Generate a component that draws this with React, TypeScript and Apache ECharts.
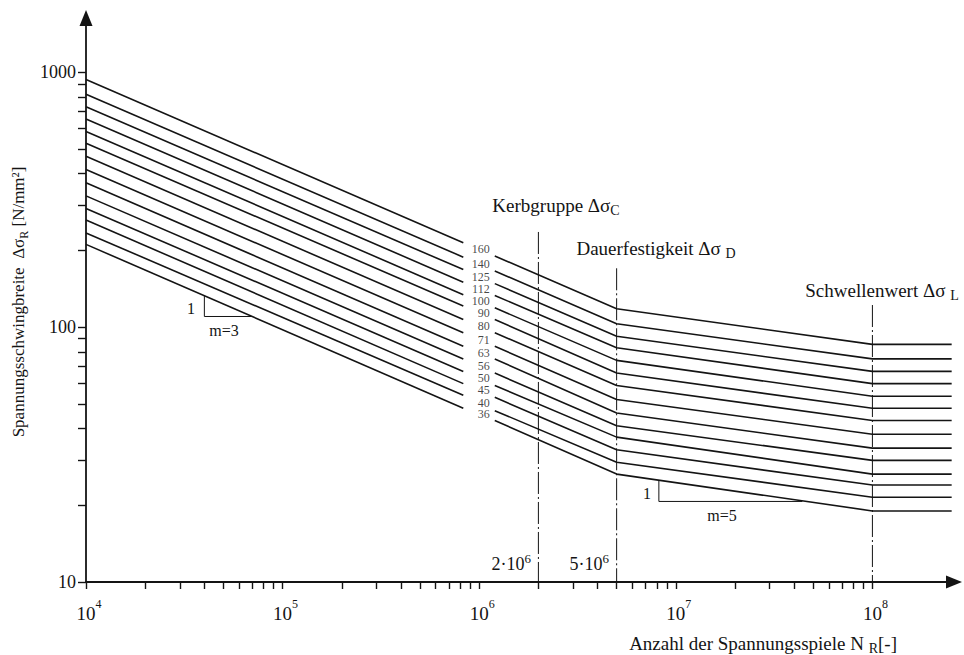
import React, { useEffect, useRef } from 'react';
import * as echarts from 'echarts';

// Detail categories (Kerbgruppen) in N/mm²
const categories = [160, 140, 125, 112, 100, 90, 80, 71, 63, 56, 50, 45, 40, 36];

// Cycle numbers of the characteristic points
const N_START = 1e4;
const N_LEFT_END = 8.3e5;
const N_RIGHT_START = 1.2e6;
const N_LABEL = 1.13e6;
const N_C = 2e6;
const N_D = 5e6;
const N_L = 1e8;
const N_END = 2.53e8;

// Stress ranges at those points
const startValues = [936, 819, 731, 655, 585, 526, 468, 415, 368, 327, 292, 263, 234, 211];
const leftEndValues = [214, 188, 168, 150, 134, 121, 107, 95, 84, 75, 67, 60, 54, 48];
const rightStartValues = [190, 166, 148, 133, 119, 107, 95, 84, 75, 66, 59, 53, 47, 43];
const dValues = [118, 103, 92, 83, 74, 66, 59, 52, 46, 41, 37, 33, 29.5, 26.5];
const lValues = [85.5, 75, 67, 60, 53.5, 48, 43, 38, 33.5, 30, 26.5, 24, 21.5, 19];

// Vertical reference lines: cycle number and top stress value
const refLineN = [N_C, N_D, N_L];
const refLineTop = [236, 170, 122];

// Slope triangles
const slope3 = [[4e4, 133], [4e4, 110], [7e4, 110]];
const slope5 = [[8.2e6, 25.1], [8.2e6, 20.7], [4.4e7, 20.7]];

// Axis ticks
const decadesX = [1e4, 1e5, 1e6, 1e7];
const decadesY = [10, 100];
const multipliers = [1, 2, 3, 4, 5, 6, 7, 8, 9];
const xLabelValues = [1e4, 1e5, 1e6, 1e7, 1e8];
const yLabelValues = [10, 100, 1000];

export default function App() {
  const ref = useRef<HTMLDivElement>(null);

  useEffect(() => {
    const chart = echarts.init(ref.current!, null, { renderer: 'svg' });
    const serif = '"Liberation Serif", "Times New Roman", serif';
    const ink = '#141414';

    const xTicks: number[] = [];
    decadesX.forEach((d) => multipliers.forEach((m) => xTicks.push(m * d)));
    xTicks.push(1e8);
    const yTicks: number[] = [];
    decadesY.forEach((d) => multipliers.forEach((m) => yTicks.push(m * d)));
    yTicks.push(1000);

    const series: any[] = [];
    refLineN.forEach((n, i) => {
      series.push({
        type: 'line',
        data: [[n, refLineTop[i]], [n, 10]],
        symbol: 'none',
        silent: true,
        lineStyle: { color: ink, width: 1, type: [22, 3, 2, 3] },
        z: 2,
      });
    });
    categories.forEach((c, i) => {
      series.push({
        type: 'line',
        name: 'L' + c,
        data: [[N_START, startValues[i]], [N_LEFT_END, leftEndValues[i]]],
        symbol: 'none',
        silent: true,
        lineStyle: { color: ink, width: 1.6 },
        z: 3,
      });
      series.push({
        type: 'line',
        name: 'R' + c,
        data: [
          [N_RIGHT_START, rightStartValues[i]],
          [N_D, dValues[i]],
          [N_L, lValues[i]],
          [N_END, lValues[i]],
        ],
        symbol: 'none',
        silent: true,
        lineStyle: { color: ink, width: 1.6 },
        z: 3,
      });
    });
    [slope3, slope5].forEach((tri) => {
      series.push({
        type: 'line',
        data: tri,
        symbol: 'none',
        silent: true,
        lineStyle: { color: ink, width: 1 },
        z: 3,
      });
    });
    series.push({
      type: 'scatter',
      symbolSize: 0,
      silent: true,
      itemStyle: { color: ink },
      data: categories.map((c, i) => [
        N_LABEL,
        Math.sqrt(leftEndValues[i] * rightStartValues[i]),
        c,
      ]),
      label: {
        show: true,
        position: 'left',
        distance: 0,
        formatter: (p: any) => String(p.value[2]),
        fontFamily: serif,
        fontSize: 12,
        lineHeight: 11,
        color: ink,
        textBorderWidth: 0,
        textShadowBlur: 0,
      },
      z: 4,
    });

    const supRich = {
      b: { fontSize: 19, fontFamily: serif, color: ink, lineHeight: 30 },
      sup: { fontSize: 12, fontFamily: serif, color: ink, lineHeight: 12, verticalAlign: 'top' },
      pad: { width: 6, fontSize: 12, lineHeight: 12 },
    };

    const subRich = (size: number) => ({
      t: { fontSize: size, fontFamily: serif, fill: ink, color: ink, lineHeight: 24 },
      sub: { fontSize: Math.round(size * 0.72), fontFamily: serif, fill: ink, color: ink, lineHeight: 12, verticalAlign: 'bottom' },
      sup: { fontSize: Math.round(size * 0.72), fontFamily: serif, fill: ink, color: ink, lineHeight: 12, verticalAlign: 'top' },
    });

    const txt = (x: number, y: number, text: string, size: number, align = 'center', extra: any = {}) => ({
      type: 'text',
      x,
      y,
      silent: true,
      ...extra,
      style: {
        text,
        fill: ink,
        fontFamily: serif,
        fontSize: size,
        align,
        verticalAlign: 'middle',
        rich: subRich(size),
      },
    });

    const arrowLine = {
      show: true,
      lineStyle: { color: ink, width: 1.8 },
      symbol: ['none', 'triangle'],
      symbolSize: [13, 16],
    };

    chart.setOption({
      animation: false,
      backgroundColor: '#ffffff',
      grid: { left: 86, right: 10, top: 18, bottom: 73, containLabel: false },
      xAxis: {
        type: 'log',
        logBase: 10,
        min: 1e4,
        max: 2.6e8,
        axisLine: arrowLine,
        axisTick: {
          show: true,
          customValues: xTicks,
          length: 7,
          lineStyle: { color: ink, width: 1.4 },
        },
        minorTick: { show: false },
        splitLine: { show: false },
        axisLabel: {
          show: true,
          customValues: xLabelValues,
          margin: 16,
          formatter: (v: number) => {
            const e = Math.round(Math.log10(v));
            return `{pad| }{b|10}{sup|${e}}`;
          },
          rich: supRich,
        },
      },
      yAxis: {
        type: 'log',
        logBase: 10,
        min: 10,
        max: 1630,
        axisLine: arrowLine,
        axisTick: {
          show: true,
          customValues: yTicks,
          length: 8,
          lineStyle: { color: ink, width: 1.4 },
        },
        minorTick: { show: false },
        splitLine: { show: false },
        axisLabel: {
          show: true,
          customValues: yLabelValues,
          margin: 10,
          fontFamily: serif,
          fontSize: 18,
          color: ink,
          formatter: (v: number) => String(Math.round(v)),
        },
      },
      graphic: [
        txt(18, 302, '{t|Spannungsschwingbreite  Δσ}{sub|R}{t| [N/mm²]}', 17, 'center', { rotation: Math.PI / 2 }),
        txt(897, 643, '{t|Anzahl der Spannungsspiele N }{sub|R}{t|[-]}', 19, 'right'),
        txt(556, 205, '{t|Kerbgruppe Δσ}{sub|C}', 19),
        txt(656, 248, '{t|Dauerfestigkeit Δσ }{sub|D}', 19),
        txt(882, 290, '{t|Schwellenwert Δσ }{sub|L}', 19),
        txt(531, 564, '{t|2·10}{sup|6}', 18, 'right'),
        txt(609, 564, '{t|5·10}{sup|6}', 18, 'right'),
        txt(191, 308, '{t|1}', 16),
        txt(224, 330, '{t|m=3}', 16),
        txt(647, 493, '{t|1}', 16),
        txt(722, 515, '{t|m=5}', 16),
      ],
      series,
    });

    return () => chart.dispose();
  }, []);

  return (
    <div
      ref={ref}
      style={{ position: 'fixed', left: 0, top: 0, width: 964, height: 655, background: '#fff' }}
    />
  );
}
